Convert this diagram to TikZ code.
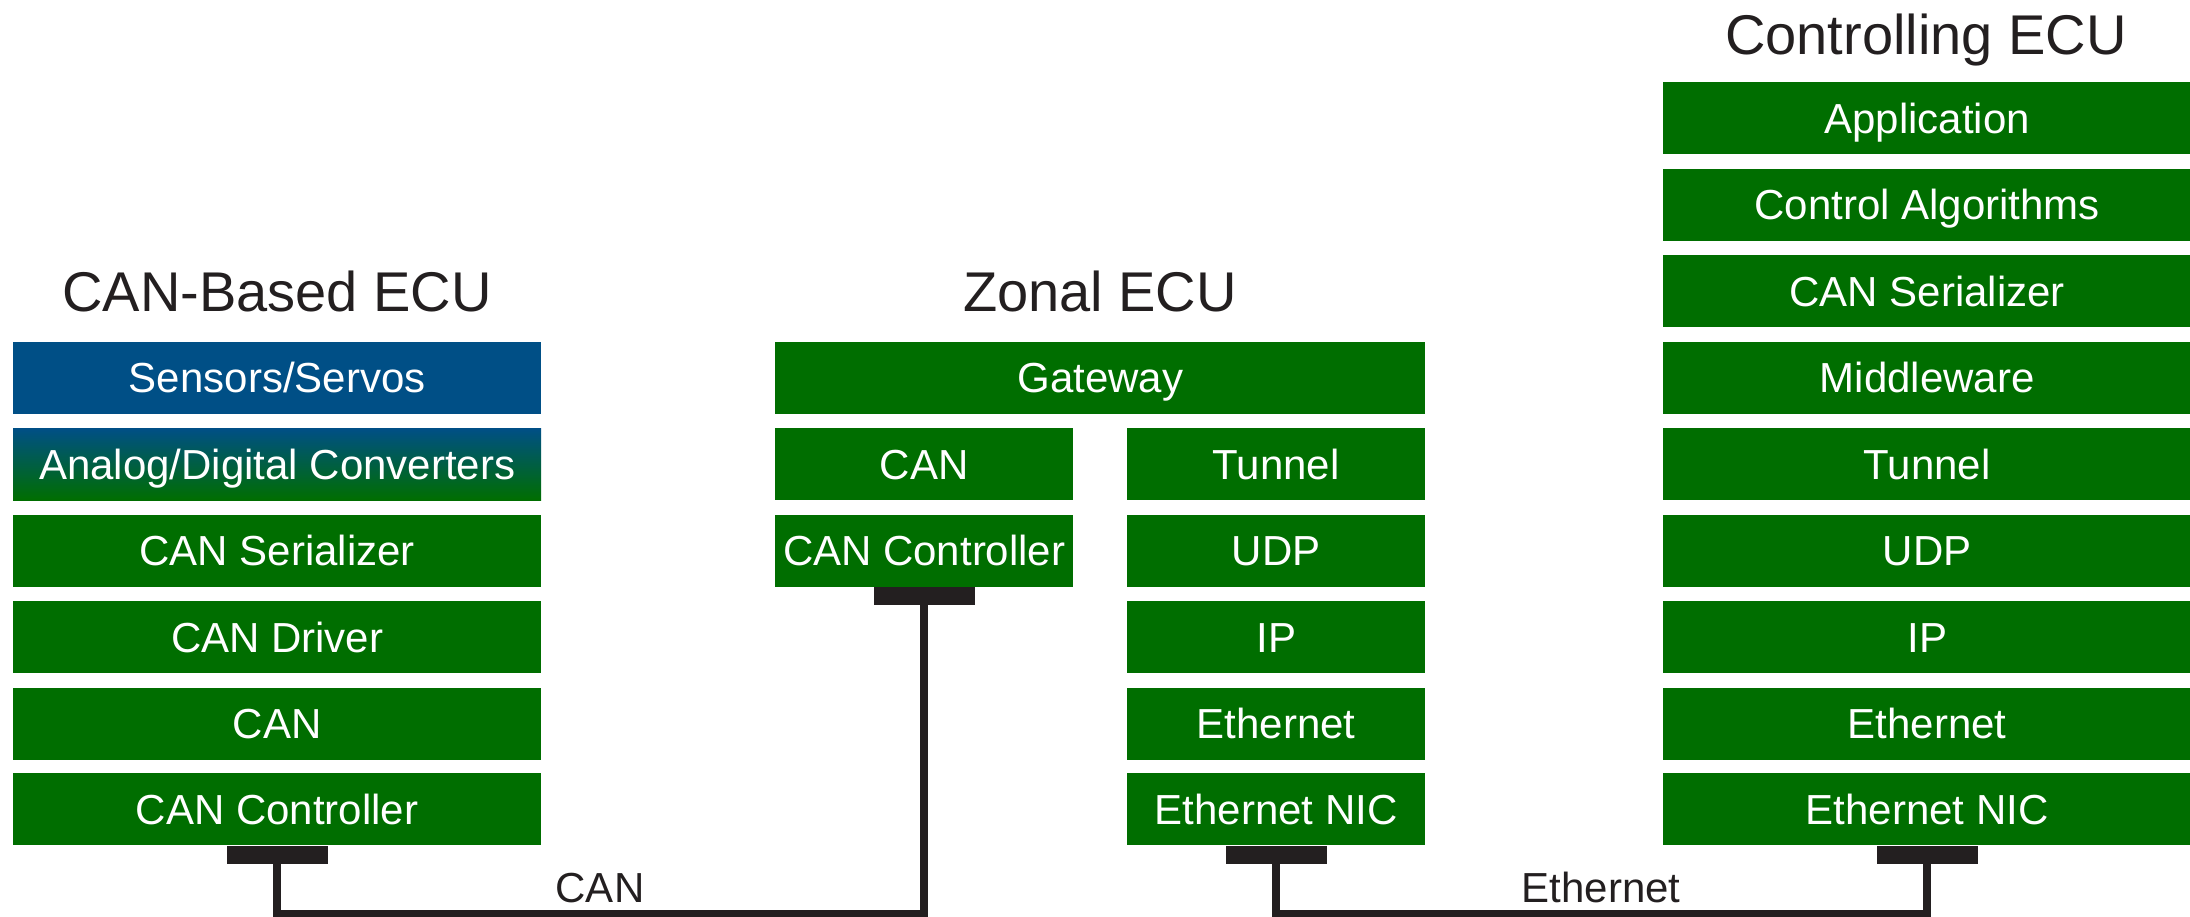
\documentclass[tikz,border=0pt]{standalone}
\usepackage{fontspec}
\setmainfont{Liberation Sans}
\definecolor{layergreen}{RGB}{0,110,0}
\definecolor{sensorblue}{RGB}{0,79,134}
\definecolor{inkblack}{RGB}{35,31,32}
\tikzset{
  layer/.style={anchor=north west, fill=layergreen, text=white, inner sep=0pt,
    minimum height=72pt, text height=30pt, text depth=0pt,
    font=\fontsize{42}{42}\selectfont},
  wide/.style={layer, minimum width=528pt},
  narrow/.style={layer, minimum width=298pt},
  ecutitle/.style={anchor=base, text=inkblack, font=\fontsize{56}{56}\selectfont},
  buslabel/.style={anchor=base, text=inkblack, font=\fontsize{42}{42}\selectfont},
  port/.style={anchor=north, fill=inkblack, minimum width=101pt, minimum height=18pt, inner sep=0pt},
  wire/.style={draw=inkblack, line width=8pt, line join=miter},
}
\begin{document}
\begin{tikzpicture}[x=1pt,y=-1pt]
\useasboundingbox (0,0) rectangle (2190,917);
% CAN-based ECU
\node[ecutitle] (cantitle) at (277,312) {CAN-Based ECU};
\node[wide,fill=sensorblue] (sens) at (13,341.5) {Sensors/Servos};
\node[wide,top color=sensorblue,bottom color=layergreen] (adc) at (13,428) {Analog/Digital Converters};
\node[wide] (canser) at (13,514.5) {CAN Serializer};
\node[wide] (candrv) at (13,601) {CAN Driver};
\node[wide] (can) at (13,687.5) {CAN};
\node[wide] (cctrl) at (13,773) {CAN Controller};
\node[port] (canport) at (cctrl.south) {};
% zonal ECU
\node[ecutitle] (zontitle) at (1100,312) {Zonal ECU};
\node[layer,minimum width=650pt] (gw) at (775,341.5) {Gateway};
\node[narrow] (zcan) at (775,428) {CAN};
\node[narrow] (zcctrl) at (775,514.5) {CAN Controller};
\node[port] (zcport) at (zcctrl.south) {};
\node[narrow] (ztun) at (1127,428) {Tunnel};
\node[narrow] (zudp) at (1127,514.5) {UDP};
\node[narrow] (zip) at (1127,601) {IP};
\node[narrow] (zeth) at (1127,687.5) {Ethernet};
\node[narrow] (znic) at (1127,773) {Ethernet NIC};
\node[port] (znport) at (znic.south) {};
% controlling ECU
\node[ecutitle] (ctltitle) at (1926,55) {Controlling ECU};
\node[wide] (app) at (1663,82) {Application};
\node[wide] (algo) at (1663,168.5) {Control Algorithms};
\node[wide] (cser) at (1663,255) {CAN Serializer};
\node[wide] (mid) at (1663,341.5) {Middleware};
\node[wide] (ctun) at (1663,428) {Tunnel};
\node[wide] (cudp) at (1663,514.5) {UDP};
\node[wide] (cip) at (1663,601) {IP};
\node[wide] (ceth) at (1663,687.5) {Ethernet};
\node[wide] (cnic) at (1663,773) {Ethernet NIC};
\node[port] (cnport) at (cnic.south) {};
% buses
\coordinate (canbus) at (600,914);
\coordinate (ethbus) at (1601,914);
\draw[wire] (canport.south) |- (canbus) -| (zcport.south);
\draw[wire] (znport.south) |- (ethbus) -| (cnport.south);
\node[buslabel] (canlbl) at (600,902) {CAN};
\node[buslabel] (ethlbl) at (1601,902) {Ethernet};
\end{tikzpicture}
\end{document}
